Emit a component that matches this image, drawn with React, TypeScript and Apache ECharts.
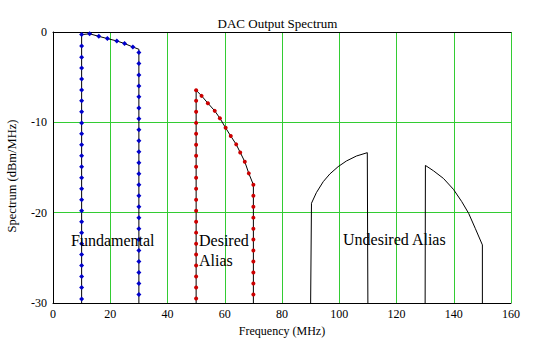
import React, { useEffect, useRef } from "react";
import * as echarts from "echarts";

// Fundamental (blue markers)
const fundLeftX = 10;
const fundLeftY = [-29.57, -28.29, -27.07, -25.86, -24.64, -23.43, -22.21, -21.0, -19.78, -18.56, -17.35, -16.13, -14.92, -13.7, -12.49, -11.27, -10.06, -8.84, -7.62, -6.41, -5.19, -3.98, -2.8, -1.55, -0.29];
const fundTopX = [12.8, 16.0, 19.0, 22.3, 25.0, 27.9];
const fundTopY = [-0.2, -0.48, -0.73, -0.99, -1.28, -1.66];
const fundCorner = [30, -1.91];
const fundRightX = 30;
const fundRightY = [-2.28, -3.49, -4.75, -5.97, -7.18, -8.4, -9.61, -10.83, -12.04, -13.26, -14.48, -15.69, -16.91, -18.12, -19.34, -20.55, -21.77, -22.98, -24.2, -25.41, -26.63, -27.85, -29.06];

// Desired alias (red markers)
const desLeftX = 50;
const desLeftY = [-29.5, -28.29, -27.07, -25.86, -24.64, -23.43, -22.21, -21.0, -19.78, -18.56, -17.35, -16.13, -14.92, -13.7, -12.49, -11.27, -10.06, -8.84, -7.62, -6.44];
const desTopX = [51.9, 54.1, 56.5, 58.3, 60.3, 62.1, 64.0, 65.4, 67.0, 68.4, 70.0];
const desTopY = [-7.07, -7.88, -8.73, -9.54, -10.61, -11.52, -12.44, -13.33, -14.36, -15.65, -16.91];
const desRightX = 70;
const desRightY = [-18.12, -19.34, -20.55, -21.77, -22.98, -24.2, -25.41, -26.63, -27.85, -29.06];

// Undesired alias (black lines)
const und1X = [90, 90.3, 92.0, 94.4, 96.7, 99.6, 102.5, 106.0, 109.8, 110, 110];
const und1Y = [-30, -18.96, -17.79, -16.57, -15.72, -14.91, -14.28, -13.73, -13.36, -13.36, -30];
const und2X = [130, 130.1, 132.9, 136.4, 139.9, 142.8, 145.2, 147.5, 150.0, 150.0];
const und2Y = [-30, -14.77, -15.36, -16.21, -17.42, -18.78, -20.07, -21.73, -23.57, -30];

const bottom = -30;

const FONT = "Liberation Serif";

export default function App() {
  const ref = useRef<HTMLDivElement>(null);
  useEffect(() => {
    if (!ref.current) return;
    const chart = echarts.init(ref.current, null, { renderer: "svg" });

    const fundData: any[] = [
      { value: [fundLeftX, bottom], symbol: "none" },
      ...fundLeftY.map((y) => [fundLeftX, y]),
      ...fundTopX.map((x, i) => [x, fundTopY[i]]),
      { value: fundCorner, symbol: "none" },
      ...fundRightY.map((y) => [fundRightX, y]),
      { value: [fundRightX, bottom], symbol: "none" },
    ];
    const desData: any[] = [
      { value: [desLeftX, bottom], symbol: "none" },
      ...desLeftY.map((y) => [desLeftX, y]),
      ...desTopX.map((x, i) => [x, desTopY[i]]),
      ...desRightY.map((y) => [desRightX, y]),
      { value: [desRightX, bottom], symbol: "none" },
    ];
    const und1 = und1X.map((x, i) => [x, und1Y[i]]);
    const und2 = und2X.map((x, i) => [x, und2Y[i]]);

    const lineStyle = { color: "#000", width: 1 };
    const gridGreen = "#33cc33";

    chart.setOption({
      animation: false,
      backgroundColor: "#fff",
      title: {
        text: "DAC Output Spectrum",
        left: "center",
        top: 12,
        textStyle: { fontFamily: FONT, fontSize: 13, fontWeight: "normal", color: "#000" },
      },
      grid: { left: 53, right: 44, top: 32, bottom: 48 },
      xAxis: [
        {
          type: "value",
          min: 0,
          max: 160,
          interval: 20,
          name: "Frequency (MHz)",
          nameLocation: "middle",
          nameGap: 22,
          nameTextStyle: { fontFamily: FONT, fontSize: 12, color: "#000" },
          axisLine: { show: true, onZero: false, lineStyle: { color: "#000", width: 1 } },
          axisTick: { show: false },
          axisLabel: { fontFamily: FONT, fontSize: 12, color: "#000", margin: 5 },
          splitLine: { show: true, lineStyle: { color: gridGreen, width: 1 } },
        },
        {
          type: "value",
          position: "top",
          min: 0,
          max: 160,
          axisLine: { show: true, lineStyle: { color: "#000", width: 1 } },
          axisTick: { show: false },
          axisLabel: { show: false },
          splitLine: { show: false },
        },
      ],
      yAxis: {
        type: "value",
        min: -30,
        max: 0,
        interval: 10,
        axisLine: { show: true, onZero: false, lineStyle: { color: "#000", width: 1 } },
        axisTick: { show: false },
        axisLabel: { fontFamily: FONT, fontSize: 12, color: "#000", margin: 6 },
        splitLine: { show: true, lineStyle: { color: gridGreen, width: 1 } },
      },
      graphic: [
        {
          type: "text",
          x: 12,
          y: 176,
          rotation: Math.PI / 2,
          style: {
            text: "Spectrum (dBm/MHz)",
            fontFamily: FONT,
            fontSize: 12.5,
            fill: "#000",
            align: "center",
            verticalAlign: "middle",
          },
        },
        {
          type: "text",
          x: 71,
          y: 240,
          z: 10,
          style: { text: "Fundamental", fontFamily: FONT, fontSize: 16, fill: "#000", verticalAlign: "middle" },
        },
        {
          type: "text",
          x: 199,
          y: 240,
          z: 10,
          style: { text: "Desired", fontFamily: FONT, fontSize: 16, fill: "#000", verticalAlign: "middle" },
        },
        {
          type: "text",
          x: 199,
          y: 260,
          z: 10,
          style: { text: "Alias", fontFamily: FONT, fontSize: 16, fill: "#000", verticalAlign: "middle" },
        },
        {
          type: "text",
          x: 343,
          y: 239,
          z: 10,
          style: { text: "Undesired Alias", fontFamily: FONT, fontSize: 16, fill: "#000", verticalAlign: "middle" },
        },
      ],
      series: [
        {
          name: "Fundamental",
          type: "line",
          data: fundData,
          symbol: "diamond",
          symbolSize: 5,
          showAllSymbol: true,
          itemStyle: { color: "#0000cc" },
          lineStyle,
        },
        {
          name: "Desired Alias",
          type: "line",
          data: desData,
          symbol: "circle",
          symbolSize: 4,
          showAllSymbol: true,
          itemStyle: { color: "#cc0000" },
          lineStyle,
        },
        {
          name: "Undesired Alias 1",
          type: "line",
          data: und1,
          symbol: "none",
          lineStyle,
        },
        {
          name: "Undesired Alias 2",
          type: "line",
          data: und2,
          symbol: "none",
          lineStyle,
        },
      ],
    });
    return () => chart.dispose();
  }, []);
  return (
    <div
      ref={ref}
      style={{ position: "fixed", left: 0, top: 0, width: 555, height: 351, background: "#fff" }}
    />
  );
}
